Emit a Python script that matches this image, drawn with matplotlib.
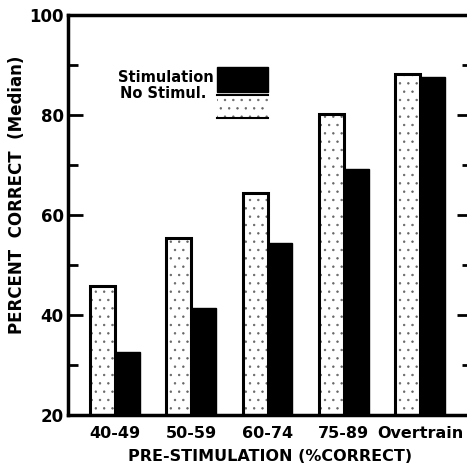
import numpy as np
import matplotlib
matplotlib.use('Agg')
import matplotlib.pyplot as plt
from matplotlib.patches import Rectangle

# 데이터
groups = ['40-49', '50-59', '60-74', '75-89', 'Overtrain']
no_stimul = [45.8, 55.4, 64.4, 80.2, 88.2]
stimulation = [32.6, 41.4, 54.4, 69.2, 87.6]

plt.rcParams['font.family'] = ['DejaVu Sans']
plt.rcParams['font.weight'] = 'bold'
plt.rcParams['axes.labelweight'] = 'bold'
plt.rcParams['hatch.linewidth'] = 0.5
plt.rcParams['hatch.color'] = '#666666'

fig = plt.figure(figsize=(4.67, 4.67), dpi=100)
ax = fig.add_axes([68/467, 52/467, 404/467, 400/467])

x = np.arange(len(groups))
w = 0.325

# 점무늬 막대 (No Stimul.)
ax.bar(x - w/2, no_stimul, w, color='white', hatch='..',
       edgecolor='#666666', linewidth=0, zorder=2)
ax.bar(x - w/2, no_stimul, w, fill=False, edgecolor='black', linewidth=2.2, zorder=3)
# 검은 막대 (Stimulation)
ax.bar(x + w/2, stimulation, w, color='black', edgecolor='black', linewidth=1, zorder=3)

ax.set_xlim(-0.616, 4.68)
ax.set_ylim(20, 100)

ax.set_yticks([20, 40, 60, 80, 100])
ax.set_yticks([30, 50, 70, 90], minor=True)
ax.tick_params(axis='y', which='major', direction='in', length=11, width=2,
               labelsize=12, pad=3, right=True)
ax.tick_params(axis='y', which='minor', direction='in', length=7, width=2, right=True)

ax.set_xticks(x)
ax.set_xticklabels(groups)
ax.tick_params(axis='x', length=0, labelsize=11.5, pad=8)

for s in ['left', 'top', 'bottom']:
    ax.spines[s].set_linewidth(2.5)
ax.spines['right'].set_visible(False)

ax.set_xlabel('PRE-STIMULATION (%CORRECT)', fontsize=11.5, labelpad=6)
ax.set_ylabel('PERCENT  CORRECT  (Median)', fontsize=12)
ax.yaxis.set_label_coords(-0.105, 0.55)

# 범례 (직접 그리기)
ax.add_patch(Rectangle((1.338, 84.6), 0.67, 5.0, color='black', zorder=4))
ax.add_patch(Rectangle((1.338, 79.6), 0.67, 4.4, facecolor='white', hatch='..',
                       edgecolor='#666666', linewidth=0, zorder=4))
ax.plot([1.338, 2.008], [84.0, 84.0], color='black', lw=1.5, zorder=5)
ax.plot([1.338, 2.008], [79.5, 79.5], color='black', lw=1.5, zorder=5)
ax.text(1.30, 87.4, 'Stimulation', ha='right', va='center', fontsize=10.5)
ax.text(1.20, 84.4, 'No Stimul.', ha='right', va='center', fontsize=10.5)

fig.savefig('out.png', dpi=100)
